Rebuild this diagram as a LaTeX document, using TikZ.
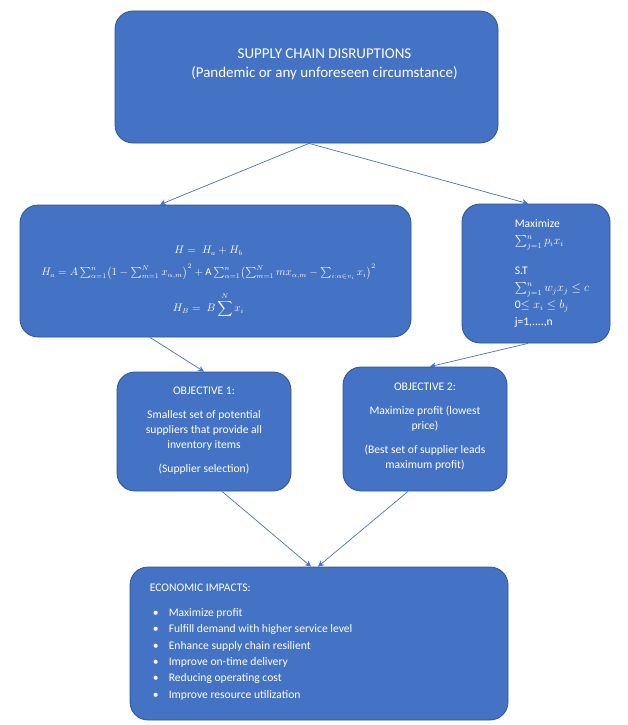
\documentclass[tikz,border=0pt]{standalone}
\usepackage{amsmath,amssymb}
\usepackage{fontspec}
\setmainfont{Carlito}
\usetikzlibrary{arrows.meta, positioning}
\definecolor{officeblue}{HTML}{4472C4}
\definecolor{officeedge}{HTML}{2F528F}

\begin{document}
\begin{tikzpicture}[
			x=1pt, y=-1pt,
			every node/.style={align=center, text=white, font=\fontsize{11.6}{15}\selectfont},
			block/.style={draw=officeedge, fill=officeblue, line width=0.8pt, rounded corners=18pt, inner sep=0pt},
			txt/.style={inner sep=0pt},
			arrow/.style={-{Stealth[length=6pt, width=6pt]}, officeblue, line width=0.7pt}
			]
			\useasboundingbox (0,0) rectangle (628,725);
			
			% Nodes
			\node (disruption) [block, minimum width=383pt, minimum height=132pt] at (306.5,77) {};
			\node (hamiltonian) [block, minimum width=391pt, minimum height=132pt] at (215.5,271) {};
			\node (knapsack) [block, minimum width=148pt, minimum height=139pt] at (536,273.5) {};
			\node (objective_one) [block, minimum width=174pt, minimum height=119pt] at (204,431.5) {};
			\node (objective_two) [block, minimum width=164pt, minimum height=124pt] at (425,429) {};
			\node (impacts) [block, minimum width=378pt, minimum height=153pt] at (319,643.5) {};
			
			% Texts
			\node (disruption_text) [txt, font=\fontsize{15}{19}\selectfont] at ([xshift=18pt, yshift=13pt]disruption.center)
				{SUPPLY CHAIN DISRUPTIONS\\(Pandemic or any unforeseen circumstance)};
			\node (hamiltonian_text) [txt, font=\fontsize{10.6}{15}\selectfont] at ([xshift=-7pt, yshift=-11pt]hamiltonian.center)
				{$H = \; H_a + H_b$\\[7pt]
				$H_a = A\sum_{\alpha=1}^{n}\bigl(1-\sum_{m=1}^{N} x_{\alpha,m}\bigr)^2 + \mathrm{A}\sum_{\alpha=1}^{n}\bigl(\sum_{m=1}^{N} m x_{\alpha,m} - \sum_{i:\alpha\in v_i} x_i\bigr)^2$\\[12pt]
				$H_B = \; B\displaystyle\sum^{N} x_i$};
			\node (knapsack_text) [txt, align=left, anchor=north west, font=\fontsize{11.6}{17}\selectfont] at ([xshift=53pt, yshift=-16pt]knapsack.north west)
				{Maximize\\$\sum_{j=1}^{n} p_i x_i$\\[13pt]S.T\\$\sum_{j=1}^{n} w_j x_j \le c$\\0$\le x_i \le b_j$\\j=1,....,n};
			\node (objective_one_text) [txt] at ([yshift=1pt]objective_one.center)
				{OBJECTIVE 1:\\[9pt]Smallest set of potential\\suppliers that provide all\\inventory items\\[9pt](Supplier selection)};
			\node (objective_two_text) [txt] at ([yshift=2pt]objective_two.center)
				{OBJECTIVE 2:\\[9pt]Maximize profit (lowest\\price)\\[9pt](Best set of supplier leads\\maximum profit)};
			\node (impacts_text) [txt, align=left, anchor=north west, font=\fontsize{11.6}{16.3}\selectfont] at ([xshift=20pt, yshift=-17pt]impacts.north west)
				{ECONOMIC IMPACTS:\\[9pt]
				\hspace*{3pt}\makebox[16pt][l]{\textbullet}Maximize profit\\
				\hspace*{3pt}\makebox[16pt][l]{\textbullet}Fulfill demand with higher service level\\
				\hspace*{3pt}\makebox[16pt][l]{\textbullet}Enhance supply chain resilient\\
				\hspace*{3pt}\makebox[16pt][l]{\textbullet}Improve on-time delivery\\
				\hspace*{3pt}\makebox[16pt][l]{\textbullet}Reducing operating cost\\
				\hspace*{3pt}\makebox[16pt][l]{\textbullet}Improve resource utilization};
			
			% Connections
			\draw [arrow] ([xshift=2.5pt]disruption.south) -- ([xshift=-55.5pt]hamiltonian.north);
			\draw [arrow] ([xshift=2.5pt]disruption.south) -- ([xshift=-8pt]knapsack.north);
			\draw [arrow] ([xshift=-65.5pt]hamiltonian.south) -- (objective_one.north);
			\draw [arrow] ([xshift=-8pt]knapsack.south) -- ([xshift=5pt]objective_two.north);
			\draw [arrow] ([xshift=18pt]objective_one.south) -- ([xshift=-8pt]impacts.north);
			\draw [arrow] ([xshift=-17pt]objective_two.south) -- ([xshift=-1pt]impacts.north);
			
		\end{tikzpicture}
\end{document}
